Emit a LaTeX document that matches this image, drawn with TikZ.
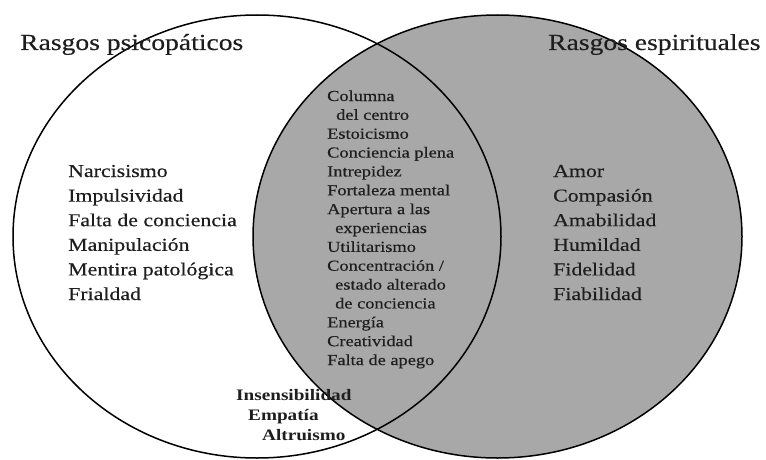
\documentclass[tikz,border=0pt]{standalone}
\usepackage{fontspec}
\setmainfont{Liberation Serif}[FakeStretch=1.2,UprightFeatures={FakeBold=0.4}]
\definecolor{fillgray}{RGB}{168,168,168}
\definecolor{inkcol}{RGB}{30,30,30}
\begin{document}
\begin{tikzpicture}[x=1pt,y=-1pt,
  ring/.style={draw=black,line width=1.5pt},
  title/.style={anchor=base west,inner sep=0pt,text=inkcol,font=\fontsize{23}{27}\selectfont},
  item/.style={anchor=base west,inner sep=0pt,text=inkcol,font=\fontsize{18.2}{22}\selectfont},
  citem/.style={anchor=base west,inner sep=0pt,text=inkcol,font=\fontsize{15.3}{18}\selectfont},
  bitem/.style={anchor=base west,inner sep=0pt,text=inkcol,font=\bfseries\fontsize{16}{19}\selectfont}]
\useasboundingbox (0,0) rectangle (766,460);
% circles
\fill[white] (257,236.5) ellipse [x radius=244, y radius=221.5];
\fill[fillgray] (497.5,236.5) ellipse [x radius=244.5, y radius=221.5];
\draw[ring] (257,236.5) ellipse [x radius=244, y radius=221.5];
\draw[ring] (497.5,236.5) ellipse [x radius=244.5, y radius=221.5];
% titles
\node[title] (tl) at (20,50) {Rasgos psicopáticos};
\node[title] (tr) at (548,50) {Rasgos espirituales};
% left list
\foreach \t [count=\i from 0] in {Narcisismo,Impulsividad,Falta de conciencia,Manipulación,Mentira patológica,Frialdad}
  \node[item] (L\i) at (68,177+24.6*\i) {\t};
% right list
\foreach \t [count=\i from 0] in {Amor,Compasión,Amabilidad,Humildad,Fidelidad,Fiabilidad}
  \node[item] (R\i) at (553,177+24.6*\i) {\t};
% center list
\foreach \t/\dx [count=\i from 0] in {Columna/0,del centro/9,Estoicismo/0,Conciencia plena/0,Intrepidez/0,Fortaleza mental/0,Apertura a las/0,experiencias/8,Utilitarismo/0,{Concentración /}/0,estado alterado/8,de conciencia/8,Energía/0,Creatividad/0,Falta de apego/0}
  \node[citem] (C\i) at (327+\dx,101+18.86*\i) {\t};
% bottom list
\node[bitem] (b1) at (236,400) {Insensibilidad};
\node[bitem] (b2) at (248,420) {Empatía};
\node[bitem] (b3) at (262,440) {Altruismo};
\end{tikzpicture}
\end{document}
